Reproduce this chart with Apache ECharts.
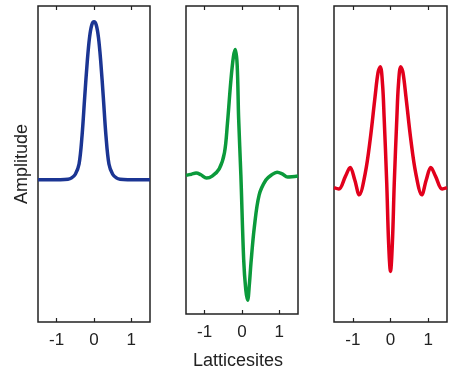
<!DOCTYPE html>
<html>
<head>
<meta charset="utf-8">
<script src="https://cdn.jsdelivr.net/npm/echarts@6/dist/echarts.min.js"></script>
<style>
  html, body { margin: 0; padding: 0; background: #fff; }
  #main { width: 452px; height: 375px; }
</style>
</head>
<body>
<div id="main"></div>
<script>
var chartDom = document.getElementById('main');
var myChart = echarts.init(chartDom);
var option;

// lattice sites (x) and amplitudes
var blueX = [-1.5, -1.2, -0.9, -0.7, -0.6, -0.5, -0.4, -0.32, -0.25, -0.18, -0.12, -0.06, 0, 0.06, 0.12, 0.18, 0.25, 0.32, 0.4, 0.5, 0.6, 0.7, 0.9, 1.2, 1.5];
var blueY = [0, 0, 0, 0.003, 0.012, 0.035, 0.1, 0.28, 0.52, 0.75, 0.9, 0.98, 1.0, 0.98, 0.9, 0.75, 0.52, 0.28, 0.1, 0.035, 0.012, 0.003, 0, 0, 0];

var greenX = [-1.5, -1.35, -1.23, -1.1, -0.95, -0.8, -0.61, -0.47, -0.39, -0.3, -0.23, -0.18, -0.13, -0.09, -0.03, 0.045, 0.1, 0.15, 0.2, 0.24, 0.33, 0.46, 0.64, 0.8, 0.94, 1.08, 1.22, 1.5];
var greenY = [0, 0.008, 0.015, 0.004, -0.017, -0.005, 0.042, 0.147, 0.337, 0.61, 0.77, 0.817, 0.72, 0.37, 0, -0.547, -0.74, -0.81, -0.7, -0.57, -0.337, -0.126, -0.03, 0.005, 0.021, 0.01, -0.01, -0.004];

var redX = [-1.5, -1.37, -1.2, -1.07, -0.95, -0.83, -0.67, -0.54, -0.41, -0.33, -0.27, -0.21, -0.17, -0.1, -0.05, 0, 0.05, 0.1, 0.17, 0.21, 0.27, 0.33, 0.41, 0.54, 0.67, 0.83, 0.95, 1.07, 1.2, 1.37, 1.5];
var redY = [-0.05, -0.058, 0.02, 0.078, 0.0, -0.095, 0.042, 0.253, 0.526, 0.68, 0.716, 0.6, 0.4, -0.02, -0.4, -0.58, -0.4, -0.02, 0.4, 0.6, 0.716, 0.68, 0.526, 0.253, 0.042, -0.095, 0.0, 0.078, 0.02, -0.058, -0.05];

var tickValues = [-1, 0, 1];

function pairs(xs, ys) {
  return xs.map(function (x, i) { return [x, ys[i]]; });
}

var fontFamily = 'Liberation Sans';
var frameColor = '#222';
var lefts = [38, 186, 334];
var widths = [112, 112, 113];
var colors = ['#1b3593', '#0b9a3b', '#e2001c'];
var curves = [pairs(blueX, blueY), pairs(greenX, greenY), pairs(redX, redY)];

var grids = [], xAxes = [], yAxes = [], series = [];
for (var i = 0; i < 3; i++) {
  grids.push({
    left: lefts[i], width: widths[i], top: 6, height: 316,
    show: true, borderColor: frameColor, borderWidth: 1.5, backgroundColor: 'transparent'
  });
  // bottom axis with labels
  xAxes.push({
    gridIndex: i, type: 'value', min: -1.5, max: 1.5, position: 'bottom',
    axisLine: { show: false, onZero: false },
    axisTick: { show: true, inside: true, length: 4, lineStyle: { color: frameColor, width: 1.2 },
      customValues: tickValues },
    axisLabel: { show: true, margin: 10, fontSize: 17, color: '#222', fontFamily: fontFamily,
      customValues: tickValues },
    splitLine: { show: false },
    name: i === 1 ? 'Latticesites' : '',
    nameLocation: 'middle', nameGap: 38,
    nameTextStyle: { fontSize: 18, color: '#222', fontFamily: fontFamily, padding: [0, 8, 0, 0] }
  });
  // top axis: inward ticks only
  xAxes.push({
    gridIndex: i, type: 'value', min: -1.5, max: 1.5, position: 'top',
    axisLine: { show: false, onZero: false },
    axisTick: { show: true, inside: true, length: 4, lineStyle: { color: frameColor, width: 1.2 },
      customValues: tickValues },
    axisLabel: { show: false },
    splitLine: { show: false }
  });
  yAxes.push({
    gridIndex: i, type: 'value', min: -0.9, max: 1.1,
    axisLine: { show: false, onZero: false }, axisTick: { show: false },
    axisLabel: { show: false }, splitLine: { show: false },
    name: i === 0 ? 'Amplitude' : '',
    nameLocation: 'middle', nameGap: 7,
    nameTextStyle: { fontSize: 18, color: '#222', fontFamily: fontFamily }
  });
  series.push({
    type: 'line',
    xAxisIndex: i * 2, yAxisIndex: i,
    data: curves[i],
    smooth: 0.35,
    showSymbol: false,
    lineStyle: { color: colors[i], width: 3.5 },
    silent: true
  });
}

option = {
  animation: false,
  backgroundColor: '#fff',
  grid: grids,
  xAxis: xAxes,
  yAxis: yAxes,
  series: series
};

option && myChart.setOption(option);
</script>
</body>
</html>
